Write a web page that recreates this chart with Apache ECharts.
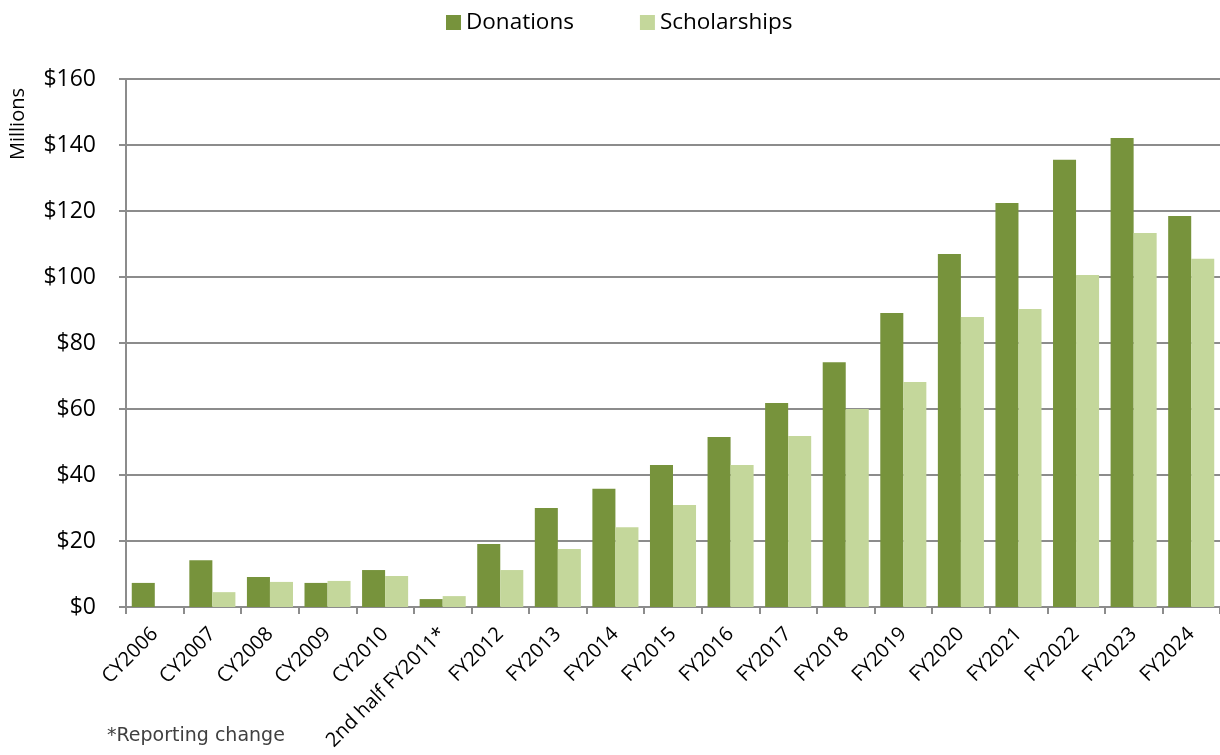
<!DOCTYPE html>
<html>
<head>
<meta charset="utf-8">
<script src="https://cdn.jsdelivr.net/npm/echarts@6/dist/echarts.min.js"></script>
<style>
  html, body { margin: 0; padding: 0; background: #fff; }
  #chart { width: 1220px; height: 755px; }
</style>
</head>
<body>
<div id="chart"></div>
<script>
// categories and values (millions of dollars)
const years = ['CY2006', 'CY2007', 'CY2008', 'CY2009', 'CY2010', '2nd half FY2011*',
  'FY2012', 'FY2013', 'FY2014', 'FY2015', 'FY2016', 'FY2017', 'FY2018', 'FY2019',
  'FY2020', 'FY2021', 'FY2022', 'FY2023', 'FY2024'];
const donations = [7.3, 14.2, 9.1, 7.3, 11.2, 2.4, 19.1, 30.0, 35.8, 43.0, 51.5, 61.8,
  74.2, 89.1, 107.0, 122.4, 135.5, 142.1, 118.5];
const scholarships = [null, 4.5, 7.6, 7.9, 9.4, 3.3, 11.2, 17.6, 24.2, 30.9, 43.0, 51.8,
  60.0, 68.2, 87.9, 90.3, 100.6, 113.3, 105.5];

const font = "'Open Sans', 'Liberation Sans', sans-serif";
const chart = echarts.init(document.getElementById('chart'));

chart.setOption({
  animation: false,
  textStyle: { fontFamily: font },
  legend: {
    top: 6,
    left: 441,
    itemWidth: 15,
    itemHeight: 15,
    itemGap: 66,
    icon: 'rect',
    textStyle: { fontSize: 22.5, color: '#000', fontFamily: font },
    data: ['Donations', 'Scholarships']
  },
  grid: { left: 126, top: 79, width: 1096, bottom: 148, containLabel: false },
  xAxis: {
    type: 'category',
    data: years,
    axisLine: { lineStyle: { color: '#8c8c8c', width: 2 } },
    axisTick: { show: true, alignWithLabel: false, length: 7, lineStyle: { color: '#8c8c8c', width: 2 } },
    axisLabel: { rotate: 45, fontSize: 20, color: '#000', margin: 24, interval: 0 }
  },
  yAxis: {
    type: 'value',
    min: 0,
    max: 160,
    interval: 20,
    axisLine: { show: true, lineStyle: { color: '#8c8c8c', width: 2 } },
    axisTick: { show: true, length: 7, lineStyle: { color: '#8c8c8c', width: 2 } },
    splitLine: { lineStyle: { color: '#8c8c8c', width: 2 } },
    axisLabel: { fontSize: 23, color: '#000', margin: 30, formatter: '${value}' }
  },
  series: [
    {
      name: 'Donations',
      type: 'bar',
      data: donations,
      barGap: '0%',
      barCategoryGap: '20%',
      itemStyle: { color: '#77933c' }
    },
    {
      name: 'Scholarships',
      type: 'bar',
      data: scholarships,
      barGap: '0%',
      barCategoryGap: '20%',
      itemStyle: { color: '#c4d79b' }
    }
  ],
  graphic: [
    {
      type: 'text',
      left: 8,
      top: 88,
      rotation: Math.PI / 2,
      style: { text: 'Millions', fontSize: 20, fill: '#000', fontFamily: font }
    },
    {
      type: 'text',
      left: 107,
      top: 727,
      style: { text: '*Reporting change', fontSize: 19, fill: '#404040', fontFamily: "'DejaVu Sans', sans-serif" }
    }
  ]
});
</script>
</body>
</html>
